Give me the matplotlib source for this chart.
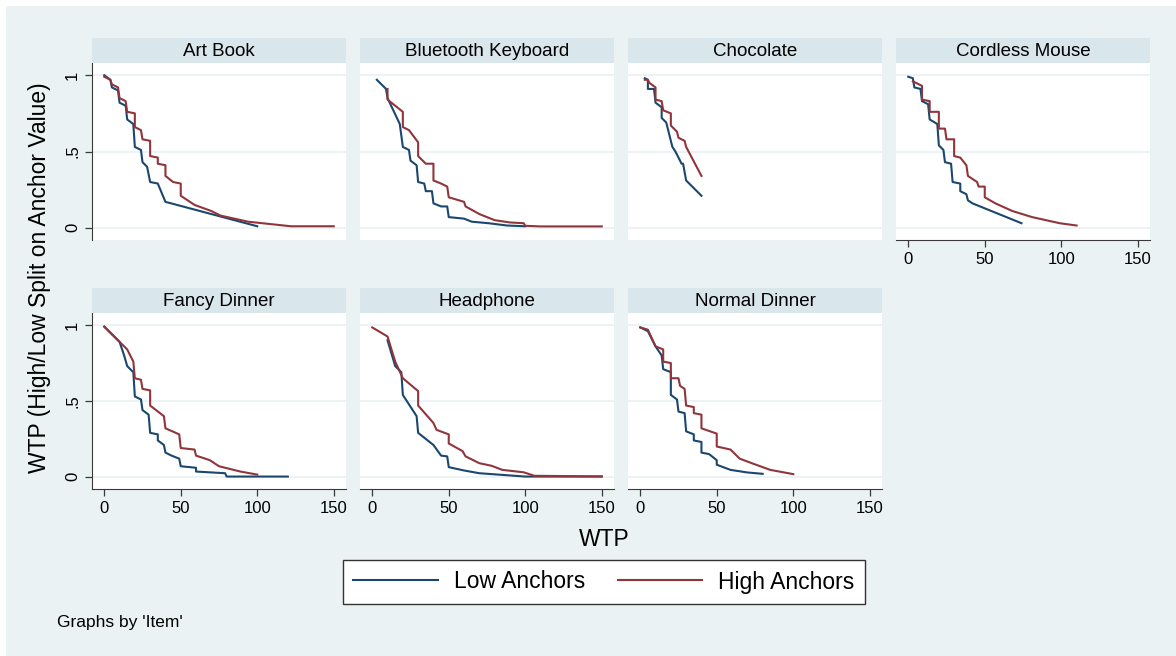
import matplotlib
matplotlib.use('Agg')
import matplotlib.pyplot as plt
from matplotlib.patches import Rectangle
from matplotlib.lines import Line2D

plt.rcParams['font.family'] = ['Liberation Sans', 'DejaVu Sans']

items = ['Art Book', 'Bluetooth Keyboard', 'Chocolate', 'Cordless Mouse',
         'Fancy Dinner', 'Headphone', 'Normal Dinner']

art_low_x = [0, 4, 5, 9, 10, 14, 15, 19, 20, 24, 25, 28, 30, 35, 40, 100]
art_low_y = [1.0, 0.97, 0.92, 0.90, 0.82, 0.80, 0.71, 0.68, 0.53, 0.51, 0.43, 0.40, 0.30, 0.29, 0.17, 0.01]
art_high_x = [0, 4, 5, 9, 10, 14, 15, 20, 20, 24, 25, 30, 30, 35, 35, 40, 40, 45, 50, 50, 59, 70, 76, 94, 122, 150]
art_high_y = [0.99, 0.97, 0.94, 0.92, 0.85, 0.83, 0.76, 0.75, 0.66, 0.64, 0.58, 0.57, 0.47, 0.46, 0.42, 0.41,
              0.34, 0.30, 0.29, 0.21, 0.15, 0.11, 0.08, 0.04, 0.01, 0.01]

bt_low_x = [3, 9, 10, 18, 20, 24, 25, 29, 30, 34, 35, 39, 40, 45, 49, 50, 60, 65, 76, 88, 100]
bt_low_y = [0.97, 0.91, 0.85, 0.68, 0.53, 0.51, 0.44, 0.41, 0.30, 0.29, 0.24, 0.24, 0.16, 0.14, 0.14, 0.07,
            0.06, 0.04, 0.03, 0.015, 0.01]
bt_high_x = [10, 10, 20, 20, 24, 30, 30, 35, 40, 40, 45, 49, 50, 60, 61, 70, 80, 90, 99, 100, 110, 150]
bt_high_y = [0.91, 0.84, 0.76, 0.66, 0.64, 0.56, 0.47, 0.42, 0.42, 0.31, 0.29, 0.27, 0.20, 0.17, 0.14, 0.09,
             0.05, 0.035, 0.03, 0.013, 0.009, 0.009]

choc_low_x = [3, 5, 5, 9, 10, 14, 14, 17, 21, 23, 27, 28, 30, 40]
choc_low_y = [0.98, 0.97, 0.91, 0.91, 0.82, 0.79, 0.72, 0.69, 0.53, 0.50, 0.42, 0.42, 0.31, 0.21]
choc_high_x = [3, 5, 6, 10, 10, 14, 15, 20, 20, 24, 25, 29, 30, 40]
choc_high_y = [0.97, 0.97, 0.95, 0.92, 0.84, 0.83, 0.77, 0.75, 0.67, 0.63, 0.59, 0.57, 0.53, 0.34]

mouse_low_x = [0, 3, 4, 8, 9, 13, 14, 19, 20, 23, 24, 28, 29, 34, 34, 38, 39, 42, 74]
mouse_low_y = [0.99, 0.98, 0.92, 0.91, 0.83, 0.81, 0.71, 0.68, 0.54, 0.51, 0.43, 0.42, 0.30, 0.29, 0.24,
               0.22, 0.18, 0.16, 0.03]
mouse_high_x = [3, 5, 9, 9, 14, 14, 20, 20, 24, 25, 30, 30, 34, 38, 39, 45, 46, 50, 50, 57, 68, 81, 99, 110]
mouse_high_y = [0.96, 0.95, 0.93, 0.84, 0.83, 0.76, 0.76, 0.65, 0.65, 0.58, 0.58, 0.47, 0.46, 0.41, 0.34,
                0.30, 0.27, 0.27, 0.20, 0.16, 0.11, 0.07, 0.03, 0.015]

fancy_low_x = [0, 8, 10, 13, 15, 19, 20, 24, 25, 29, 30, 35, 35, 39, 40, 44, 49, 50, 60, 60, 79, 80, 120]
fancy_low_y = [0.99, 0.91, 0.89, 0.80, 0.73, 0.69, 0.53, 0.51, 0.44, 0.41, 0.29, 0.28, 0.24, 0.21, 0.16,
               0.14, 0.12, 0.07, 0.06, 0.035, 0.024, 0.002, 0.002]
fancy_high_x = [0, 8, 15, 19, 20, 24, 25, 30, 30, 39, 40, 49, 50, 59, 60, 69, 75, 89, 100]
fancy_high_y = [0.99, 0.91, 0.84, 0.76, 0.65, 0.64, 0.58, 0.57, 0.47, 0.40, 0.32, 0.28, 0.19, 0.18, 0.14,
                0.11, 0.07, 0.035, 0.015]

head_low_x = [10, 15, 19, 20, 29, 30, 40, 45, 49, 50, 60, 70, 85, 100, 150]
head_low_y = [0.90, 0.73, 0.69, 0.54, 0.40, 0.29, 0.21, 0.14, 0.135, 0.064, 0.042, 0.024, 0.013, 0.002, 0.002]
head_high_x = [0, 10, 15, 20, 30, 30, 40, 42, 50, 50, 59, 61, 70, 78, 85, 99, 106, 150]
head_high_y = [0.985, 0.925, 0.76, 0.65, 0.565, 0.47, 0.355, 0.31, 0.28, 0.22, 0.17, 0.135, 0.09, 0.073,
               0.046, 0.03, 0.007, 0.003]

normal_low_x = [0, 5, 10, 14, 15, 20, 20, 24, 25, 29, 30, 35, 35, 40, 40, 45, 50, 50, 59, 70, 80]
normal_low_y = [0.985, 0.96, 0.86, 0.80, 0.71, 0.69, 0.54, 0.51, 0.43, 0.42, 0.30, 0.28, 0.24, 0.23, 0.16,
                0.15, 0.11, 0.08, 0.046, 0.029, 0.02]
normal_high_x = [0, 5, 10, 15, 15, 20, 20, 25, 26, 29, 30, 35, 35, 40, 40, 50, 50, 59, 65, 74, 85, 100]
normal_high_y = [0.985, 0.97, 0.86, 0.84, 0.76, 0.75, 0.65, 0.65, 0.60, 0.58, 0.47, 0.46, 0.42, 0.41, 0.32,
                 0.285, 0.20, 0.18, 0.12, 0.086, 0.046, 0.018]

low_series = [(art_low_x, art_low_y), (bt_low_x, bt_low_y), (choc_low_x, choc_low_y),
              (mouse_low_x, mouse_low_y), (fancy_low_x, fancy_low_y), (head_low_x, head_low_y),
              (normal_low_x, normal_low_y)]
high_series = [(art_high_x, art_high_y), (bt_high_x, bt_high_y), (choc_high_x, choc_high_y),
               (mouse_high_x, mouse_high_y), (fancy_high_x, fancy_high_y), (head_high_x, head_high_y),
               (normal_high_x, normal_high_y)]

x_ticks = [0, 50, 100, 150]
y_ticks = [0, 0.5, 1]
y_ticklabels = ['0', '.5', '1']

BG = '#EAF2F3'
STRIP = '#D9E6EB'
NAVY = '#1A476F'
MAROON = '#90353B'
AX = '#3a3a3a'

W, H = 1176, 656
fig = plt.figure(figsize=(W / 100, H / 100), dpi=100, facecolor='white')
fig.patches.append(Rectangle((6 / W, 0), 1, 1 - 6 / H, transform=fig.transFigure,
                             facecolor=BG, edgecolor='none', zorder=-10))

col_left = [92, 360, 628, 896]
col_w = 254
row_top = [63, 313]
row_h = [177, 176]
strip_h = 25

for i, name in enumerate(items):
    r, c = divmod(i, 4)
    left, top = col_left[c], row_top[r]
    ax = fig.add_axes([left / W, 1 - (top + row_h[r]) / H, col_w / W, row_h[r] / H])
    sax = fig.add_axes([left / W, 1 - top / H, col_w / W, strip_h / H])
    sax.set_facecolor(STRIP)
    sax.set_xticks([]); sax.set_yticks([])
    for s in sax.spines.values():
        s.set_visible(False)
    sax.text(0.5, 0.45, name, ha='center', va='center', fontsize=13.5, color='black',
             transform=sax.transAxes)

    ax.set_facecolor('white')
    ax.set_xlim(-8, 158)
    ax.set_ylim(-0.08, 1.08)
    for yv in y_ticks:
        ax.axhline(yv, color=BG, lw=1.3, zorder=0)
    lx, ly = low_series[i]
    hx, hy = high_series[i]
    ax.plot(lx, ly, color=NAVY, lw=1.5, zorder=2)
    ax.plot(hx, hy, color=MAROON, lw=1.5, zorder=3)

    for s in ax.spines.values():
        s.set_visible(False)
    show_left = c == 0
    show_bottom = (r == 1) or (c == 3)
    ax.spines['left'].set_visible(show_left)
    ax.spines['bottom'].set_visible(show_bottom)
    ax.spines['left'].set_color(AX)
    ax.spines['bottom'].set_color(AX)
    ax.tick_params(colors=AX, length=5, width=0.9, labelsize=12, labelcolor='black')
    if show_left:
        ax.set_yticks(y_ticks)
        ax.set_yticklabels(y_ticklabels, rotation=90, va='center')
    else:
        ax.set_yticks([])
    if show_bottom:
        ax.set_xticks(x_ticks)
    else:
        ax.set_xticks([])

fig.text(40 / W, 1 - 278 / H, 'WTP (High/Low Split on Anchor Value)', rotation=90,
         ha='center', va='center', fontsize=16.5)
fig.text(604 / W, 1 - 540 / H, 'WTP', ha='center', va='center', fontsize=16.5)

handles = [Line2D([], [], color=NAVY, lw=1.5), Line2D([], [], color=MAROON, lw=1.5)]
leg = fig.legend(handles, ['Low Anchors', 'High Anchors'], loc='center',
                 bbox_to_anchor=(604 / W, 1 - 582 / H), ncol=2, fontsize=16.5,
                 frameon=True, fancybox=False, edgecolor='#333333', framealpha=1,
                 handlelength=3.7, handletextpad=0.7, columnspacing=1.4,
                 borderpad=0.45, borderaxespad=0)
leg.get_frame().set_linewidth(1.0)

fig.text(57 / W, 1 - 622 / H, "Graphs by 'Item'", ha='left', va='center', fontsize=12.5)

fig.savefig('out.png', dpi=100, facecolor=fig.get_facecolor())
